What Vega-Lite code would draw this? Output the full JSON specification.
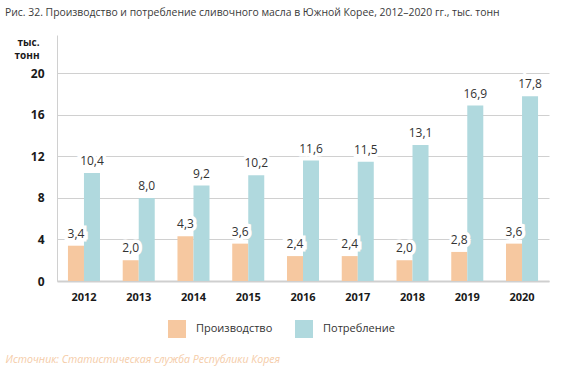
{
  "$schema": "https://vega.github.io/schema/vega-lite/v6.json",
  "width": 492,
  "height": 246,
  "autosize": {"type": "none"},
  "padding": {"left": 57, "top": 35, "right": 16, "bottom": 105},
  "config": {
    "font": "Open Sans",
    "view": {"stroke": null},
    "locale": {"number": {"decimal": ",", "thousands": " ", "grouping": [3], "currency": ["", ""]}}
  },
  "title": {
    "text": "Рис. 32. Производство и потребление сливочного масла в Южной Корее, 2012–2020 гг., тыс. тонн",
    "anchor": "start",
    "frame": "group",
    "dx": -52,
    "offset": 17,
    "fontSize": 10.4,
    "fontWeight": "normal",
    "color": "#3a3a3a",
    "font": "Open Sans"
  },
  "data": {
    "values": [
      {"year": "2012", "series": "Производство", "value": 3.4},
      {"year": "2013", "series": "Производство", "value": 2.0},
      {"year": "2014", "series": "Производство", "value": 4.3},
      {"year": "2015", "series": "Производство", "value": 3.6},
      {"year": "2016", "series": "Производство", "value": 2.4},
      {"year": "2017", "series": "Производство", "value": 2.4},
      {"year": "2018", "series": "Производство", "value": 2.0},
      {"year": "2019", "series": "Производство", "value": 2.8},
      {"year": "2020", "series": "Производство", "value": 3.6},
      {"year": "2012", "series": "Потребление", "value": 10.4},
      {"year": "2013", "series": "Потребление", "value": 8.0},
      {"year": "2014", "series": "Потребление", "value": 9.2},
      {"year": "2015", "series": "Потребление", "value": 10.2},
      {"year": "2016", "series": "Потребление", "value": 11.6},
      {"year": "2017", "series": "Потребление", "value": 11.5},
      {"year": "2018", "series": "Потребление", "value": 13.1},
      {"year": "2019", "series": "Потребление", "value": 16.9},
      {"year": "2020", "series": "Потребление", "value": 17.8}
    ]
  },
  "encoding": {
    "x": {
      "field": "year",
      "type": "nominal",
      "scale": {"paddingInner": 0.415, "paddingOuter": 0.2},
      "axis": {
        "title": "Источник: Статистическая служба Республики Корея",
        "titleFontStyle": "italic",
        "titleFontWeight": "normal",
        "titleFontSize": 10.6,
        "titleColor": "#f5cca8",
        "titleAnchor": "start",
        "titleAlign": "left",
        "titleBaseline": "middle",
        "titleX": -52,
        "titleY": 78,
        "labelAngle": 0,
        "labelFontWeight": "bold",
        "labelFontSize": 11,
        "labelColor": "#1a1a1a",
        "labelPadding": 10,
        "ticks": false,
        "domainColor": "#cfcfcf",
        "domainWidth": 2
      }
    },
    "xOffset": {"field": "series", "type": "nominal", "sort": ["Производство", "Потребление"]},
    "y": {
      "field": "value",
      "type": "quantitative",
      "scale": {"domain": [0, 23.7], "nice": false},
      "axis": {
        "values": [0, 4, 8, 12, 16, 20],
        "title": ["тыс.", "тонн"],
        "titleAngle": 0,
        "titleAlign": "right",
        "titleBaseline": "top",
        "titleX": -18,
        "titleY": 2,
        "titleFontSize": 10,
        "titleFontWeight": "bold",
        "titleColor": "#1a1a1a",
        "titleLineHeight": 13,
        "labelFontWeight": "bold",
        "labelFontSize": 12,
        "labelColor": "#1a1a1a",
        "labelPadding": 13,
        "ticks": false,
        "grid": true,
        "gridColor": "#d0d0d0",
        "gridWidth": 1,
        "domainColor": "#d0d0d0",
        "domainWidth": 1
      }
    }
  },
  "layer": [
    {
      "mark": {"type": "bar"},
      "encoding": {
        "color": {
          "field": "series",
          "type": "nominal",
          "scale": {"domain": ["Производство", "Потребление"], "range": ["#f6c8a0", "#b0d9de"]},
          "legend": {
            "title": null,
            "orient": "none",
            "legendX": 111,
            "legendY": 285,
            "direction": "horizontal",
            "symbolType": "square",
            "symbolSize": 324,
            "symbolStrokeWidth": 0,
            "symbolOpacity": 1,
            "labelFontSize": 11,
            "labelColor": "#333333",
            "labelOffset": 10,
            "columnPadding": 22
          }
        }
      }
    },
    {
      "mark": {"type": "text", "dy": -8, "baseline": "alphabetic", "fontSize": 12, "stroke": "white", "strokeWidth": 7, "strokeJoin": "miter", "fill": "white"},
      "encoding": {"text": {"field": "value", "type": "quantitative", "format": ".1f"}}
    },
    {
      "mark": {"type": "text", "dy": -8, "baseline": "alphabetic", "fontSize": 12, "color": "#333333"},
      "encoding": {"text": {"field": "value", "type": "quantitative", "format": ".1f"}}
    }
  ]
}
